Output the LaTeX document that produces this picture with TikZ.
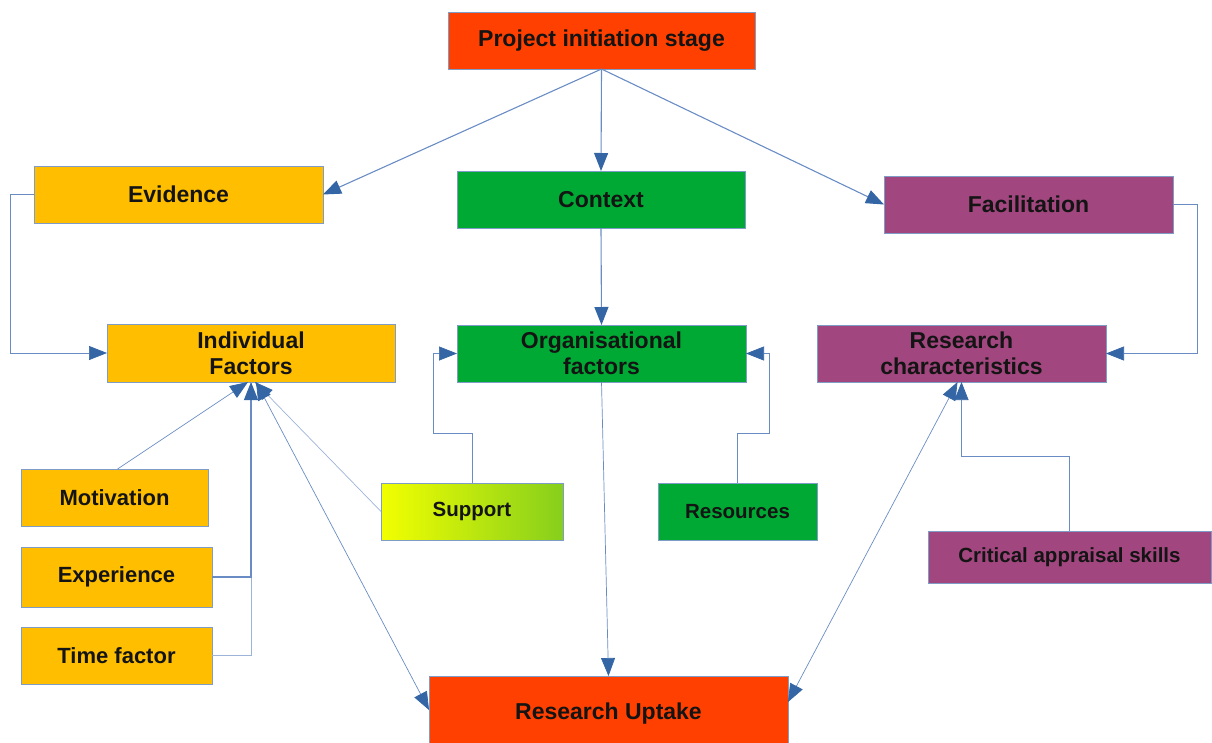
\documentclass[tikz,border=0pt]{standalone}
\usepackage{fontspec}
\setmainfont{Liberation Sans}
\usetikzlibrary{arrows.meta,calc}

\definecolor{redorange}{HTML}{FF4000}
\definecolor{amber}{HTML}{FFBF00}
\definecolor{leafgreen}{HTML}{00A933}
\definecolor{plum}{HTML}{A1467E}
\definecolor{supyellow}{HTML}{F2FF00}
\definecolor{supgreen}{HTML}{86CF1C}
\definecolor{boxedge}{HTML}{7F9CC6}
\definecolor{lineblue}{HTML}{6A8CC4}
\definecolor{paleblue}{HTML}{9DB3D8}
\definecolor{tipblue}{HTML}{3465A4}
\definecolor{inktext}{HTML}{141414}

\tikzset{
  box/.style={draw=boxedge, line width=0.8pt, rectangle, inner sep=0pt, outer sep=0pt,
    text=inktext, align=center, font=\bfseries\fontsize{23}{26}\selectfont},
  smallbox/.style={box, font=\bfseries\fontsize{20.5}{24}\selectfont},
  sidebox/.style={box, font=\bfseries\fontsize{22}{24}\selectfont},
  conn/.style={draw=lineblue, line width=1.1pt,
    -{Triangle[length=18pt,width=14pt,color=tipblue]}},
  connthin/.style={conn, line width=0.7pt},
  connboth/.style={draw=lineblue, line width=0.7pt,
    {Triangle[length=18pt,width=14pt,color=tipblue]}-{Triangle[length=18pt,width=14pt,color=tipblue]}},
  plain/.style={draw=paleblue, line width=0.7pt},
}

\begin{document}
\begin{tikzpicture}[x=1pt,y=-1pt]
\useasboundingbox (0,0) rectangle (1212,742);
\clip (0,0) rectangle (1212,742);

% boxes
\node[box, fill=redorange, minimum width=307pt, minimum height=57pt] (pis) at (601.5,40.5) {Project initiation stage};
\node[box, fill=amber, minimum width=289pt, minimum height=57pt] (ev) at (178.5,194.5) {Evidence};
\node[box, fill=leafgreen, minimum width=288pt, minimum height=57pt] (ctx) at (601,199.5) {Context};
\node[box, fill=plum, minimum width=289pt, minimum height=57pt] (fac) at (1028.5,204.5) {Facilitation};
\node[box, fill=amber, minimum width=288pt, minimum height=58pt] (ind) at (251,353) {Individual\\Factors};
\node[box, fill=leafgreen, minimum width=289pt, minimum height=57pt] (org) at (601.5,353.5) {Organisational\\factors};
\node[box, fill=plum, minimum width=289pt, minimum height=57pt] (rch) at (961.5,353.5) {Research\\characteristics};
\node[sidebox, fill=amber, minimum width=187pt, minimum height=57pt] (mot) at (114.5,497.5) {Motivation};
\node[sidebox, fill=amber, minimum width=191pt, minimum height=60pt] (exp) at (116.5,577) {Experience};
\node[sidebox, fill=amber, minimum width=191pt, minimum height=57pt] (tim) at (116.5,655.5) {Time factor};
\node[smallbox, left color=supyellow, right color=supgreen, minimum width=182pt, minimum height=57pt] (sup) at (472,511.5) {Support};
\node[smallbox, fill=leafgreen, minimum width=159pt, minimum height=57pt] (res) at (737.5,511.5) {Resources};
\node[smallbox, fill=plum, minimum width=283pt, minimum height=52pt] (cas) at (1069.5,557) {Critical appraisal skills};
\node[box, fill=redorange, minimum width=359pt, minimum height=76pt] (ru) at (608.5,714) {Research Uptake};

% connectors from the initiation stage
\draw[conn] (pis.south) -- (ev.east);
\draw[conn] (pis.south) -- (ctx.north);
\draw[conn] (pis.south) -- (fac.west);
\draw[conn] (ctx.south) -- (org.north);

% side loops
\draw[connthin] (ev.west) -- ++(-24,0) |- (ind.west);
\draw[connthin] (fac.east) -- ++(24,0) |- (rch.east);

% individual factors
\draw[connthin] ($(mot.north)+(3,0)$) -- ($(ind.south)+(-3,0)$);
\draw[plain] (tim.east) -| (ind.south);
\draw[conn] (exp.east) -| (ind.south);
\draw[connthin, draw=paleblue] (sup.west) -- ($(ind.south)+(4,0)$);

% organisational factors
\draw[connthin] (sup.north) |- ++(-39,-50) |- (org.west);
\draw[connthin] (res.north) |- ++(32,-50) |- (org.east);
\draw[connthin] (org.south) -- (ru.north);

% research characteristics
\draw[connthin] (cas.north) -- ++(0,-75) -| (rch.south);

% links with research uptake
\draw[connboth] ($(ru.north west)+(0,34)$) -- ($(ind.south)+(5,0)$);
\draw[connboth] ($(ru.north east)+(0,26)$) -- ($(rch.south)+(-4,0)$);
\end{tikzpicture}
\end{document}
